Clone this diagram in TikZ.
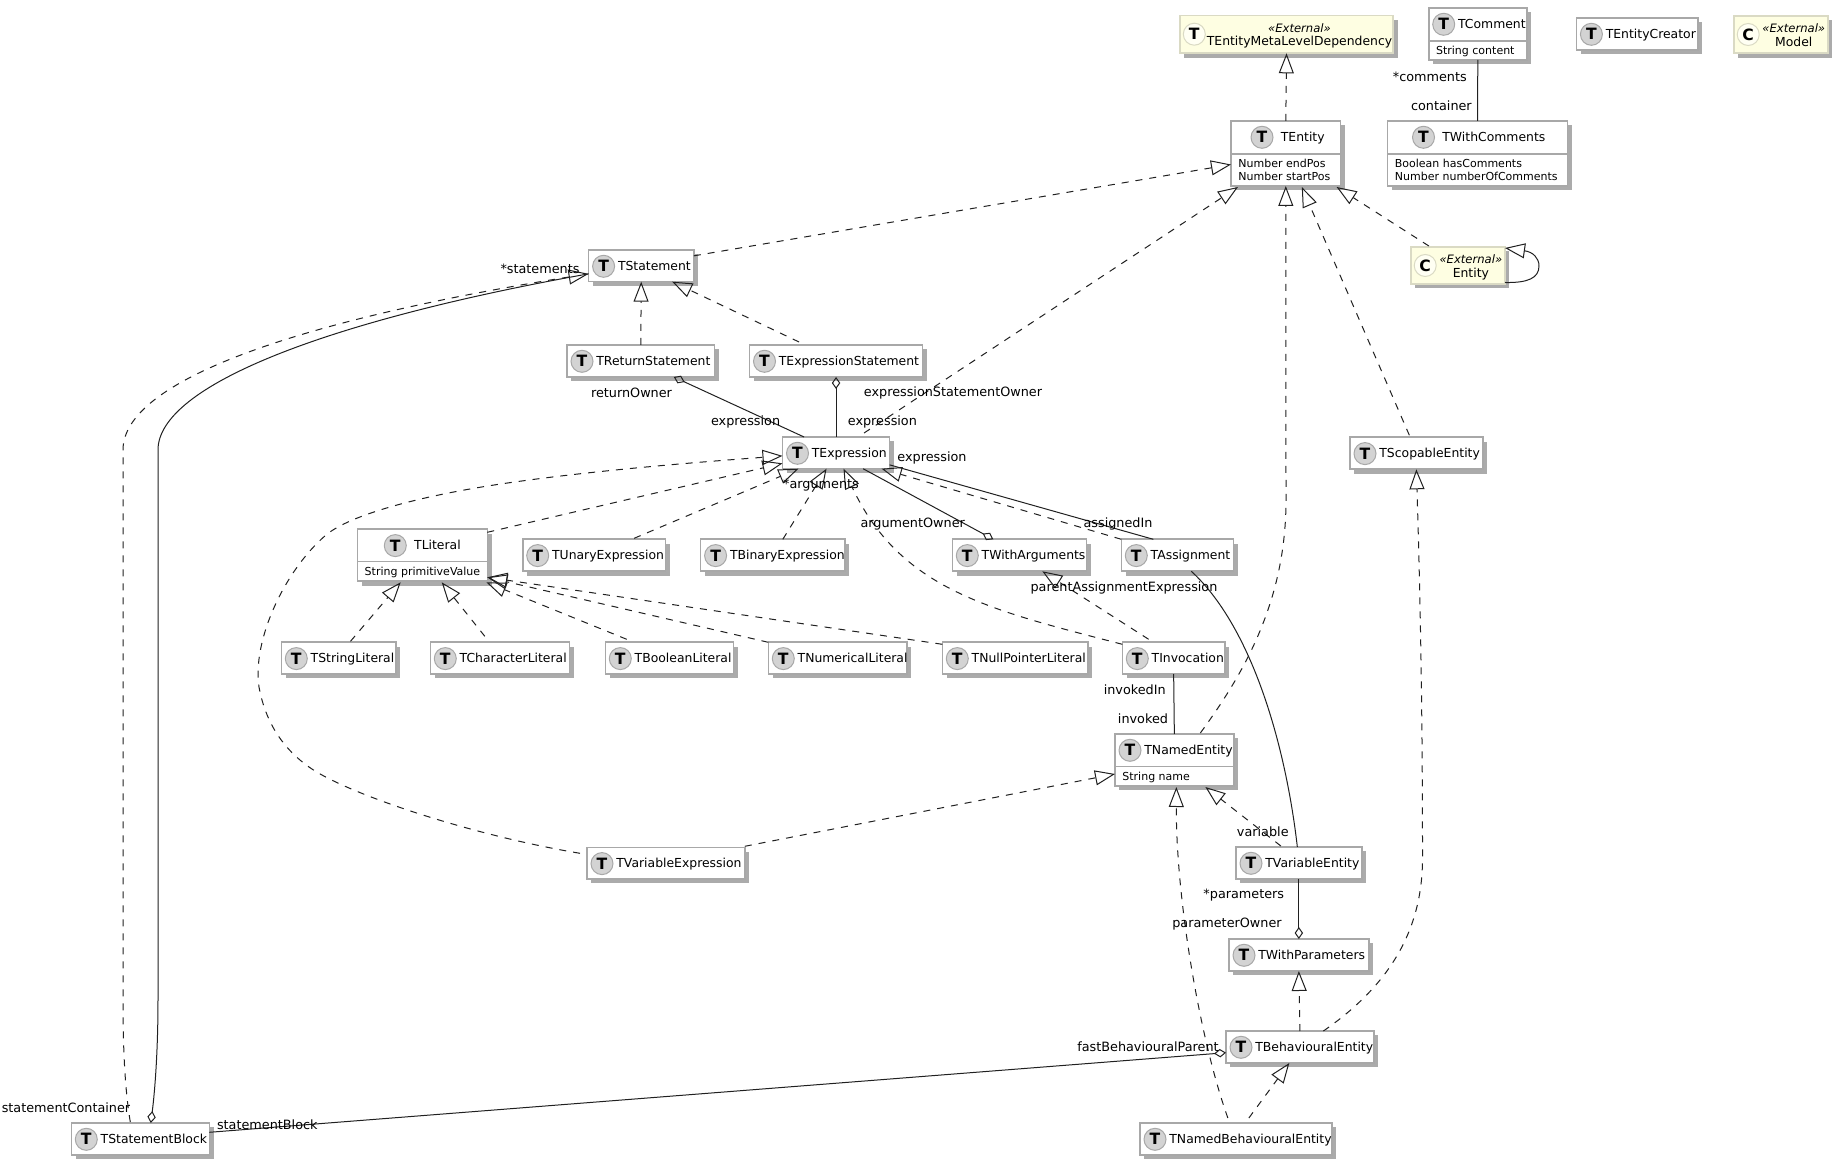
\documentclass[tikz,border=0pt]{standalone}
\usepackage{fontspec}
\setmainfont{DejaVu Sans}
\usetikzlibrary{arrows.meta,calc,shadows}
\definecolor{boxgray}{HTML}{A8A8A8}
\definecolor{shadowgray}{HTML}{ABABAB}
\definecolor{icongray}{HTML}{D3D3D3}
\definecolor{extfill}{HTML}{FEFEE2}
\definecolor{extline}{HTML}{DADAC4}
\definecolor{linkgray}{HTML}{202020}
\tikzset{
    classbox/.style={rectangle,draw=boxgray,fill=white,line width=.8pt,inner sep=0pt,outer sep=0pt,
        drop shadow={shadow xshift=2.2pt,shadow yshift=-2.2pt,fill=shadowgray,opacity=1}},
    extbox/.style={classbox,draw=extline,fill=extfill},
    classrule/.style={draw=boxgray,line width=.75pt},
    iconT/.style={circle,draw=boxgray,fill=icongray,line width=.5pt,minimum size=11pt,inner sep=0pt,font=\bfseries\fontsize{7.8}{8}\selectfont},
    iconext/.style={iconT,draw=extline,fill=white!60!extfill},
    classname/.style={anchor=west,inner sep=0pt,text height=4.8pt,text depth=1.2pt,font=\fontsize{6.2}{7}\selectfont},
    extname/.style={inner sep=0pt,text height=4.8pt,text depth=1.2pt,font=\fontsize{6.2}{7}\selectfont},
    stereo/.style={inner sep=0pt,font=\itshape\fontsize{5.8}{7}\selectfont},
    attrlist/.style={anchor=north west,inner sep=0pt,align=left,font=\fontsize{5.5}{6.5}\selectfont},
    rolelabel/.style={inner sep=0pt,font=\fontsize{6.4}{7}\selectfont},
    links/.style={draw=linkgray,line width=.5pt},
    realizes/.style={links,dash pattern=on 3.5pt off 3.5pt,-{Triangle[open,length=10pt,width=7.5pt]}},
    partof/.style={links,{Diamond[open,length=6pt,width=4.2pt]}-},
}
\begin{document}
\begin{tikzpicture}[x=.5pt,y=-.5pt]
        \useasboundingbox (0,0) rectangle (1837,1165);
        \foreach \id/\xl/\yt/\xr/\yb/\ix/\txt in {
            tcomment/1428.7/8/1526.9/60/15/TComment,
            tentitycreator/1576.4/18/1697.8/50/15/TEntityCreator,
            tentity/1231/121/1340.6/186/31/TEntity,
            twithcomments/1387.5/121/1567.6/186/36/TWithComments,
            tstatement/588.6/250/693.8/281.7/15/TStatement,
            treturn/567/345/714.6/377/15/TReturnStatement,
            texprstmt/749.5/345/922.6/377/15/TExpressionStatement,
            texpression/782.5/437/889.6/468.7/15/TExpression,
            tscopable/1350/437.3/1482.7/469.3/15/TScopableEntity,
            tliteral/357.3/529.3/487.3/581.3/38/TLiteral,
            tunary/522.7/539.3/665.6/571.3/15/TUnaryExpression,
            tbinary/700.6/539.3/845/571.3/15/TBinaryExpression,
            twitharguments/952.3/539.3/1086.3/571.3/15/TWithArguments,
            tassignment/1121.3/539.3/1233.3/571.3/15/TAssignment,
            tstring/281.3/642.3/395.7/674/15/TStringLiteral,
            tcharacter/430.3/642.3/569.3/674/15/TCharacterLiteral,
            tboolean/605.3/642.3/733.3/674/15/TBooleanLiteral,
            tnumerical/768.3/642.3/907/674/15/TNumericalLiteral,
            tnull/942.3/642.3/1087.7/674/15/TNullPointerLiteral,
            tinvocation/1122.3/642.3/1225/674/15/TInvocation,
            tnamedentity/1115/734/1233.7/786/15/TNamedEntity,
            tvarexpr/587/847.3/744.8/879/15/TVariableExpression,
            tvarentity/1236/847/1361.7/879/15/TVariableEntity,
            twithparams/1229/939/1368.7/971/15/TWithParameters,
            tbehav/1226/1031/1373.7/1063/15/TBehaviouralEntity,
            tstatementblock/71.3/1123/209.3/1155/15/TStatementBlock,
            tnamedbehav/1140/1123/1331.7/1155/15/TNamedBehaviouralEntity}
        {
            \node[classbox,minimum width={(\xr-\xl)*.5pt},minimum height={(\yb-\yt)*.5pt}] (\id) at ({(\xl+\xr)/2},{(\yt+\yb)/2}) {};
            \node[iconT] (\id icon) at ({\xl+\ix},{\yt+16.3}) {T};
            \node[classname] (\id name) at ({\xl+\ix+(\ix>15?18.5:14)},{\yt+16.8}) {\txt};
        }
        \foreach \id/\xl/\yt/\xr/\yb/\ic/\txt in {
            tmeta/1179.8/15.7/1393.2/53.3/T/TEntityMetaLevelDependency,
            model/1733.7/16/1827.9/53.3/C/Model,
            entity/1410.7/247/1505/284/C/Entity}
        {
            \node[extbox,minimum width={(\xr-\xl)*.5pt},minimum height={(\yb-\yt)*.5pt}] (\id) at ({(\xl+\xr)/2},{(\yt+\yb)/2}) {};
            \node[iconext] (\id icon) at ({\xl+14.5},{\yt+18.5}) {\ic};
            \node[stereo] (\id stereo) at ({(\xl+26+\xr)/2},{\yt+12}) {«External»};
            \node[extname] (\id name) at ({(\xl+26+\xr)/2},{\yt+26.5}) {\txt};
        }
        \foreach \id/\yd/\txt in {
            tcomment/33/{String content},
            tentity/33/{Number endPos\\Number startPos},
            twithcomments/33/{Boolean hasComments\\Number numberOfComments},
            tliteral/32/{String primitiveValue},
            tnamedentity/32.7/{String name}}
        {
            \draw[classrule] ($(\id.north west)+(0,\yd)$) -- ($(\id.north east)+(0,\yd)$);
            \node[attrlist] (\id attr) at ($(\id.north west)+(7,\yd+5)$) {\txt};
        }
        \draw[realizes] (tentity.north) -- (tmeta.south);
        \draw[realizes] ($(tstatement.east)+(0,-10)$) -- ($(tentity.west)+(0,11)$);
        \draw[realizes] ($(texpression.north)+(28,-4)$) -- ($(tentity.south west)+(7,1)$);
        \draw[realizes] ($(tnamedentity.north)+(26,-1)$) .. controls (1245,672) and (1286,600) .. (1286,500) -- (tentity.south);
        \draw[realizes] ($(tscopable.north)+(-7,-2)$) -- ($(tentity.south)+(16,1)$);
        \draw[realizes] ($(entity.north)+(-29,-1)$) -- ($(tentity.south east)+(-4,1)$);
        \draw[links,-{Triangle[open,length=10pt,width=7.5pt]}] ($(entity.east)+(0,17)$) .. controls (1528,283) and (1539,278) .. (1539,266) .. controls (1539,258) and (1533,252) .. ($(entity.north east)+(0,1)$);
        \draw[links] (tcomment.south) -- (twithcomments.north);
        \draw[realizes] (treturn.north) -- (tstatement.south);
        \draw[realizes] ($(texprstmt.north)+(-37,-3)$) -- ($(tstatement.south)+(31,0)$);
        \draw[partof] ($(treturn.south)+(33,0)$) -- ($(texpression.north)+(-32,0)$);
        \draw[partof] (texprstmt.south) -- (texpression.north);
        \draw[realizes] ($(tliteral.north east)+(0,3)$) -- ($(texpression.west)+(0,10.5)$);
        \draw[realizes] ($(tvarexpr.north west)+(-7,6)$) .. controls (470,835) and (345,793) .. (309,767) .. controls (285,750) and (266,725) .. (259,687) .. controls (252,640) and (285,570) .. (326,535) .. controls (350,515) and (420,495) .. (516.7,481.7) .. controls (600,470) and (700,462) .. ($(texpression.west)+(0,3)$);
        \draw[realizes] ($(tunary.north)+(40,-1)$) -- ($(texpression.south west)+(16,0)$);
        \draw[realizes] ($(tbinary.north)+(10,0)$) -- ($(texpression.south)+(-9.5,0)$);
        \draw[realizes] ($(tinvocation.north west)+(0,2)$) .. controls (990,610) and (900,590) .. ($(texpression.south)+(7.5,0)$);
        \draw[partof] ($(twitharguments.north)+(-26,0)$) -- ($(texpression.south)+(27,0)$);
        \draw[links] ($(tassignment.north)+(-24,0)$) -- ($(texpression.east)+(0,12)$);
        \draw[realizes] (tassignment.north west) -- ($(texpression.south east)+(-8,0)$);
        \draw[realizes] ($(tinvocation.north)+(-25,-3)$) -- ($(twitharguments.south)+(23,0)$);
        \draw[realizes] ($(tstring.north)+(12,-1)$) -- ($(tliteral.south)+(-21.6,1)$);
        \draw[realizes] ($(tcharacter.north)+(-15,-6)$) -- ($(tliteral.south)+(19.4,1)$);
        \draw[realizes] ($(tboolean.north)+(-42.6,-3)$) -- ($(tliteral.south east)+(-1,1)$);
        \draw[realizes] (tnumerical.north west) -- ($(tliteral.south east)+(0,-4)$);
        \draw[realizes] ($(tnull.north west)+(0,2)$) -- ($(tliteral.south east)+(0,-4)$);
        \draw[links] (tinvocation.south) -- (tnamedentity.north);
        \draw[realizes] ($(tvarexpr.north east)+(0,-1)$) -- ($(tnamedentity.west)+(0,14)$);
        \draw[realizes] ($(tvarentity.north)+(-18,-1)$) -- ($(tnamedentity.south)+(31,1)$);
        \draw[links] ($(tassignment.south)+(14,0)$) .. controls (1250,625) and (1285,740) .. ($(tvarentity.north)+(-1.5,0)$);
        \draw[partof] (twithparams.north) -- (tvarentity.south);
        \draw[realizes] (tbehav.north) -- (twithparams.south);
        \draw[realizes] ($(tbehav.north)+(23.5,0)$) .. controls (1390,985) and (1422,930) .. (1422.5,860) .. controls (1422.5,780) and (1422,650) .. (tscopable.south);
        \draw[realizes] ($(tnamedbehav.north)+(13,-5)$) -- ($(tbehav.south)+(-10.5,0)$);
        \draw[realizes] ($(tnamedbehav.north)+(-8,-5)$) .. controls (1200,1040) and (1176,900) .. ($(tnamedentity.south)+(2,1)$);
        \draw[partof] ($(tbehav.west)+(0,5.7)$) -- ($(tstatementblock.east)+(0,-6.7)$);
        \draw[realizes] ($(tstatementblock.north)+(-10,-1)$) .. controls (125,1090) and (123,1050) .. (123,1000) -- (123,450) .. controls (123,380) and (300,320) .. ($(tstatement.west)+(0,8)$);
        \draw[partof] ($(tstatementblock.north)+(10.5,0)$) .. controls (155,1090) and (158,1050) .. (158,1000) -- (158,450) .. controls (158,385) and (330,320) .. ($(tstatement.west)+(0,8)$);
        \foreach \id/\px/\py/\txt in {
            lblcomments/1429.8/76.7/*comments,
            lblcontainer/1441.4/105.7/container,
            lblstatements/540/269.3/*statements,
            lblreturnowner/631.5/392.7/returnOwner,
            lblexpra/745.6/421.7/expression,
            lblstmtowner/953/392.7/expressionStatementOwner,
            lblexprb/882.4/421.7/expression,
            lblexprc/932/457.7/expression,
            lblarguments/821/485/*arguments,
            lblargowner/912.7/524/argumentOwner,
            lblassignedin/1118/524/assignedIn,
            lblparentassign/1124/587.7/parentAssignmentExpression,
            lblinvokedin/1134.7/689.3/invokedIn,
            lblinvoked/1143/718.7/invoked,
            lblvariable/1262.8/831.7/variable,
            lblparameters/1243.8/895/*parameters,
            lblparamowner/1227/924/parameterOwner,
            lblfastparent/1148/1046.7/fastBehaviouralParent,
            lblstmtcontainer/66/1107.7/statementContainer,
            lblstmtblock/267.3/1125/statementBlock}
        {
            \node[rolelabel] (\id) at (\px,\py) {\txt};
        }
    \end{tikzpicture}
\end{document}
